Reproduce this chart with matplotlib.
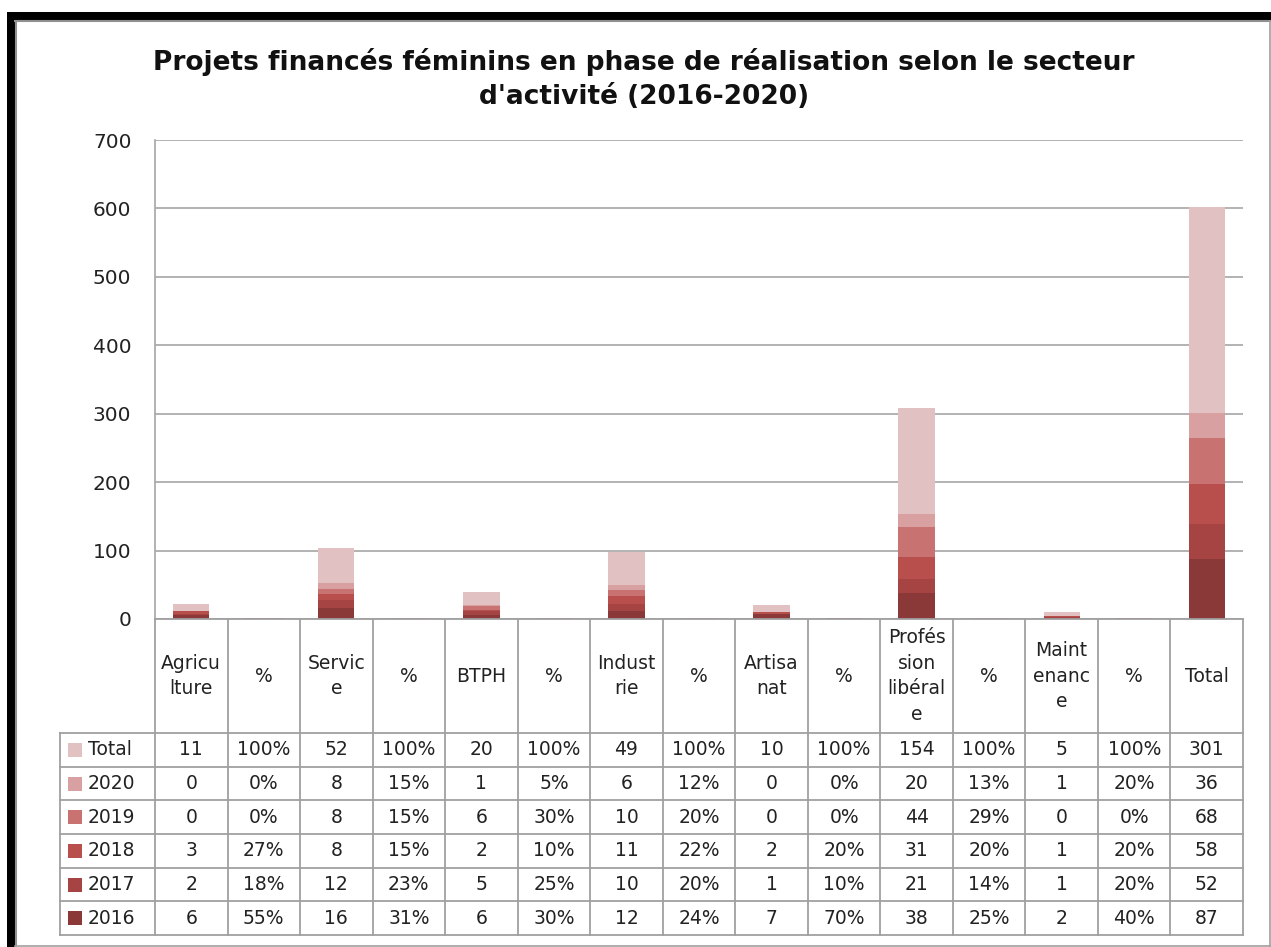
import matplotlib
matplotlib.use("Agg")
import matplotlib.pyplot as plt
from matplotlib.patches import Rectangle
from matplotlib.lines import Line2D

W, H = 1271, 947

categories = ["Agricu\nlture", "%", "Servic\ne", "%", "BTPH", "%", "Indust\nrie", "%",
              "Artisa\nnat", "%", "Profés\nsion\nlibéral\ne", "%", "Maint\nenanc\ne", "%", "Total"]
is_pct = [False, True, False, True, False, True, False, True, False, True, False, True, False, True, False]

series_names = ["2016", "2017", "2018", "2019", "2020", "Total"]
s2016 = [6, 0.55, 16, 0.31, 6, 0.30, 12, 0.24, 7, 0.70, 38, 0.25, 2, 0.40, 87]
s2017 = [2, 0.18, 12, 0.23, 5, 0.25, 10, 0.20, 1, 0.10, 21, 0.14, 1, 0.20, 52]
s2018 = [3, 0.27, 8, 0.15, 2, 0.10, 11, 0.22, 2, 0.20, 31, 0.20, 1, 0.20, 58]
s2019 = [0, 0.00, 8, 0.15, 6, 0.30, 10, 0.20, 0, 0.00, 44, 0.29, 0, 0.00, 68]
s2020 = [0, 0.00, 8, 0.15, 1, 0.05, 6, 0.12, 0, 0.00, 20, 0.13, 1, 0.20, 36]
sTotal = [11, 1.00, 52, 1.00, 20, 1.00, 49, 1.00, 10, 1.00, 154, 1.00, 5, 1.00, 301]
series = [s2016, s2017, s2018, s2019, s2020, sTotal]
colors = ["#8B3838", "#A54442", "#B84F4C", "#C87372", "#D9A0A1", "#E2C1C3"]

title = "Projets financés féminins en phase de réalisation selon le secteur\nd'activité (2016-2020)"
yticks = [0, 100, 200, 300, 400, 500, 600, 700]


def fx(px):
    return px / W


def fy(py):
    return 1 - py / H


fig = plt.figure(figsize=(W / 100, H / 100), dpi=100)
fig.patch.set_facecolor("white")

# plot area
L, R, T, B = 155, 1243, 140, 619
ax = fig.add_axes([fx(L), fy(B), fx(R) - fx(L), (B - T) / H])
n = len(categories)
x = list(range(n))
bottom = [0.0] * n
for vals, col in zip(series, colors):
    ax.bar(x, vals, width=0.5, bottom=bottom, color=col, linewidth=0)
    bottom = [b + v for b, v in zip(bottom, vals)]
ax.set_xlim(-0.5, n - 0.5)
ax.set_ylim(0, 700)
ax.set_yticks(yticks)
ax.set_yticklabels([str(t) for t in yticks], fontsize=14.5, color="#222222")
ax.set_xticks([])
ax.yaxis.grid(True, color="#a6a6a6", linewidth=1.2)
ax.set_axisbelow(True)
for s in ["top", "right", "bottom"]:
    ax.spines[s].set_visible(False)
ax.spines["left"].set_color("#a6a6a6")
ax.spines["left"].set_linewidth(1.2)
ax.tick_params(axis="y", length=0, pad=17)

# data table
TL, TB = 60, 935
colw = (R - L) / n
xl = -0.5 - (L - TL) / colw
tax = fig.add_axes([fx(TL), fy(TB), fx(R) - fx(TL), (TB - B) / H])
tax.set_xlim(xl, n - 0.5)
tax.set_ylim(TB - B, 0)
tax.axis("off")
lc = "#a0a0a0"
rowh = (TB - B - 114) / 6
for i in range(n + 1):
    tax.plot([i - 0.5, i - 0.5], [0, TB - B], color=lc, lw=1.3, clip_on=False)
tax.plot([xl, xl], [114, TB - B], color=lc, lw=1.3, clip_on=False)
for k in range(7):
    yy = 114 + k * rowh
    tax.plot([xl, n - 0.5], [yy, yy], color=lc, lw=1.3, clip_on=False)
tax.plot([-0.5, n - 0.5], [0, 0], color=lc, lw=1.3, clip_on=False)

for i, c in enumerate(categories):
    tax.text(i, 57, c, ha="center", va="center", fontsize=13.5, linespacing=1.45, color="#222222")

rows = list(zip(series_names, series, colors))[::-1]
for k, (name, vals, col) in enumerate(rows):
    yc = 114 + (k + 0.5) * rowh
    tax.add_patch(Rectangle((xl + 8 / colw, yc - 7), 14 / colw, 14, facecolor=col, edgecolor="none"))
    tax.text(xl + 28 / colw, yc, name, ha="left", va="center", fontsize=13.5, color="#222222")
    for i, v in enumerate(vals):
        s = f"{round(v * 100)}%" if is_pct[i] else f"{int(v)}"
        tax.text(i, yc, s, ha="center", va="center", fontsize=13.5, color="#222222")

# title
fig.text(fx(644), fy(79), title, ha="center", va="center", fontsize=19, fontweight="bold",
         linespacing=1.4, color="#111111")

# frame
fig.add_artist(Rectangle((fx(7), fy(947)), fx(8), fy(12) - fy(947), transform=fig.transFigure,
                         facecolor="black", edgecolor="none"))
fig.add_artist(Rectangle((fx(7), fy(20)), 1 - fx(7), fy(12) - fy(20), transform=fig.transFigure,
                         facecolor="black", edgecolor="none"))
fig.add_artist(Line2D([fx(15), 1], [fy(21), fy(21)], transform=fig.transFigure, color="#909090", lw=1.5))
fig.add_artist(Line2D([fx(16), fx(16)], [fy(21), 0], transform=fig.transFigure, color="#909090", lw=1.5))
fig.add_artist(Line2D([fx(1269.5), fx(1269.5)], [fy(21), fy(946)], transform=fig.transFigure, color="#a0a0a0", lw=1.2))
fig.add_artist(Line2D([fx(15), fx(1270)], [fy(945.5), fy(945.5)], transform=fig.transFigure, color="#a0a0a0", lw=1.2))

fig.savefig("out.png", dpi=100, facecolor="white")
